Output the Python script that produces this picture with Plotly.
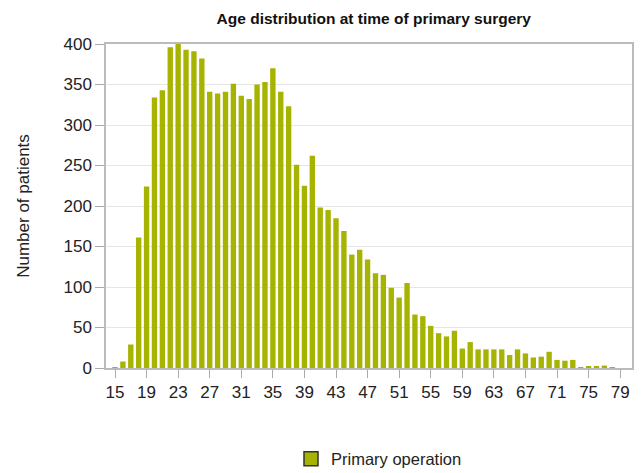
import plotly.graph_objects as go

# ages at time of primary surgery
ages = list(range(15, 79))
patients = [1, 8, 29, 161, 224, 334, 343, 396, 401, 393, 391, 382,
            341, 339, 341, 351, 336, 332, 350, 353, 370, 341, 323,
            251, 225, 262, 198, 195, 185, 169, 140, 146, 134, 117,
            115, 99, 87, 105, 66, 64, 52, 43, 39, 46, 24, 32, 23,
            23, 23, 23, 16, 23, 18, 13, 14, 20, 10, 9, 10, 1, 2, 2, 3, 1]
xticks = list(range(15, 80, 4))
yticks = list(range(0, 401, 50))

bar_color = "#a6b300"

fig = go.Figure()
fig.add_trace(go.Bar(x=ages, y=patients, marker=dict(color=bar_color, line=dict(width=0)),
                     showlegend=False, hoverinfo="x+y"))
# legend swatch only
fig.add_trace(go.Scatter(x=[None], y=[None], mode="markers", name="Primary operation",
                         marker=dict(symbol="square", size=14, color=bar_color,
                                     line=dict(color="#333333", width=1.5))))

# page body has an 8px margin, so the figure is 8px smaller than the window
fig.update_layout(
    width=635, height=465,
    margin=dict(l=98, r=11, t=36, b=105, autoexpand=False),
    paper_bgcolor="white", plot_bgcolor="white",
    font=dict(family="Arial, Liberation Sans, sans-serif", color="#222222", size=17),
    title=dict(text="<b>Age distribution at time of primary surgery</b>",
               x=0.576, xanchor="center", y=0.978, yanchor="middle",
               font=dict(size=15.5, color="#111111")),
    bargap=0.32,
    showlegend=True,
    legend=dict(orientation="h", x=0.519, xanchor="center", y=-0.281, yanchor="middle",
                font=dict(size=16.5, color="#222222")),
)
fig.update_xaxes(range=[13.86, 80.5], tickvals=xticks, ticks="outside", ticklen=8,
                 tickcolor="#aaaaaa", showgrid=False, showline=True, linecolor="#bbbbbb",
                 linewidth=1.5, mirror=True, zeroline=False, tickfont=dict(size=17),
                 automargin=False)
fig.update_yaxes(range=[0, 400], tickvals=yticks, ticks="outside", ticklen=9,
                 tickcolor="#aaaaaa", showgrid=True, gridcolor="#e6e6e6",
                 showline=True, linecolor="#bbbbbb", linewidth=1.5, mirror=True,
                 zeroline=False, tickfont=dict(size=17), automargin=False,
                 title=dict(text="Number of patients", font=dict(size=17), standoff=30))

fig.write_html("out.html")
